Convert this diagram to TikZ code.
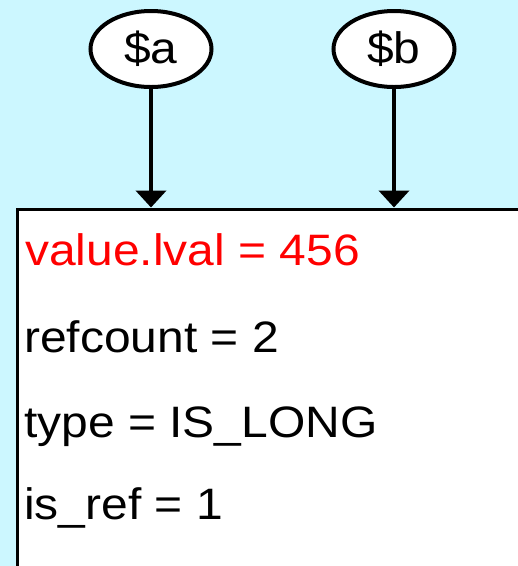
\documentclass[tikz,border=0pt]{standalone}
\usepackage{fontspec}
\setmainfont{Liberation Sans}[FakeStretch=1.09]
\usetikzlibrary{arrows.meta,shapes.geometric}
\definecolor{bgcyan}{RGB}{204,247,255}
\definecolor{valred}{RGB}{255,0,0}
\tikzset{
  varnode/.style={ellipse,draw=black,line width=4pt,fill=white,inner sep=0pt,
    minimum width=121pt,minimum height=76pt,font=\fontsize{44}{44}\selectfont},
  zvalbox/.style={rectangle,draw=black,line width=3pt,fill=white,inner sep=0pt,
    minimum width=560pt,minimum height=420pt,anchor=north west},
  fieldtext/.style={anchor=base west,inner sep=0pt,font=\fontsize{44}{44}\selectfont},
  pointer/.style={line width=4.5pt,-{Triangle[width=30pt,length=17pt]}},
}
\begin{document}
\begin{tikzpicture}[x=1pt,y=1pt]
\useasboundingbox (0,0) rectangle (518,-566);
\clip (0,0) rectangle (518,-566);
\fill[bgcyan] (0,0) rectangle (518,-566);
\node[zvalbox] (zval) at (16,-207.5) {};
\node[varnode] (a) at (151,-49) {\$a};
\node[varnode] (b) at (394,-49) {\$b};
\draw[pointer] (a.south) -- (a.south |- zval.north);
\draw[pointer] (b.south) -- (b.south |- zval.north);
\node[fieldtext,text=valred] (lval) at (25,-265.5) {value.lval = 456};
\node[fieldtext] (refc) at (24,-352) {refcount = 2};
\node[fieldtext] (type) at (24,-437) {type = IS\_LONG};
\node[fieldtext] (isref) at (24,-519) {is\_ref = 1};
\end{tikzpicture}
\end{document}
